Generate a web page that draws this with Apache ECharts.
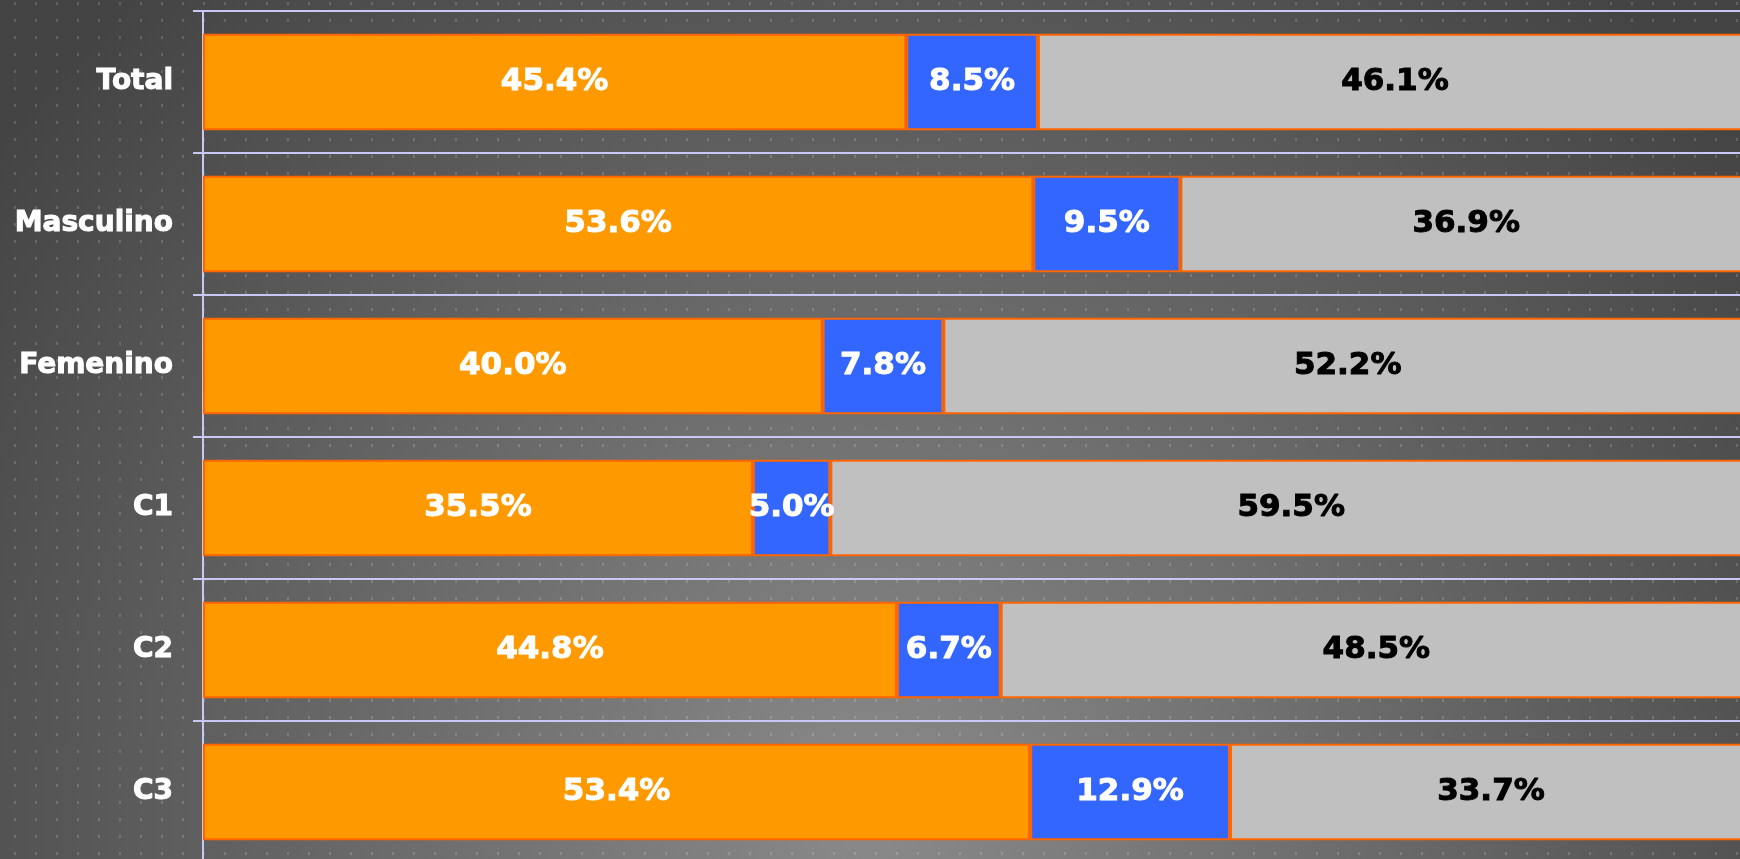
<!DOCTYPE html>
<html>
<head>
<meta charset="utf-8">
<script src="https://cdn.jsdelivr.net/npm/echarts@6/dist/echarts.min.js"></script>
<style>
  html, body { margin: 0; padding: 0; }
  body {
    width: 1740px;
    height: 859px;
    overflow: hidden;
    background-color: #444;
    background-image:
      url("data:image/svg+xml,%3Csvg xmlns='http://www.w3.org/2000/svg' width='21' height='17'%3E%3Crect x='0' y='0' width='2' height='3' fill='rgba(255,255,255,0.16)'/%3E%3C/svg%3E"),
      radial-gradient(ellipse 1100px 1100px at 50% 95%, #8a8a8a 0%, #444 100%);
    background-size: 21px 17px, 100% 100%;
    background-position: 14px 2px, 0 0;
  }
  #chart { width: 1740px; height: 859px; }
</style>
</head>
<body>
<div id="chart"></div>
<script>
// categorías (de arriba abajo)
const categories = ["Total", "Masculino", "Femenino", "C1", "C2", "C3"];

// porcentajes por segmento
const orangeValues = [45.4, 53.6, 40.0, 35.5, 44.8, 53.4];
const blueValues = [8.5, 9.5, 7.8, 5.0, 6.7, 12.9];
const grayValues = [46.1, 36.9, 52.2, 59.5, 48.5, 33.7];

const FONT = "'DejaVu Sans', Verdana, sans-serif";
const LINE = "#c8c8f5";

function segment(name, data, color, textColor) {
  return {
    name,
    type: "bar",
    stack: "total",
    barWidth: "68%",
    data,
    itemStyle: { color, borderColor: "#ff6600", borderWidth: 2 },
    label: {
      show: true,
      position: "inside",
      color: textColor,
      fontFamily: FONT,
      fontSize: 31,
      fontWeight: "bold",
      // trazo fino para engrosar la letra como en el original
      textBorderColor: textColor,
      textBorderWidth: 1,
      formatter: (p) => p.value.toFixed(1) + "%",
    },
    emphasis: { disabled: true },
  };
}

const chart = echarts.init(document.getElementById("chart"), null, { renderer: "canvas" });

chart.setOption({
  backgroundColor: "transparent",
  animation: false,
  grid: { left: 203, right: -12, top: 11, bottom: -4, containLabel: false, outerBoundsMode: "none" },
  xAxis: {
    type: "value",
    min: 0,
    max: 100,
    show: false,
  },
  yAxis: {
    type: "category",
    data: categories,
    inverse: true,
    axisLine: { show: true, lineStyle: { color: LINE, width: 2 } },
    axisTick: { show: true, length: 10, lineStyle: { color: LINE, width: 2 } },
    splitLine: { show: true, lineStyle: { color: LINE, width: 2 } },
    axisLabel: {
      color: "#fff",
      fontFamily: FONT,
      fontSize: 28,
      fontWeight: "bold",
      textBorderColor: "#fff",
      textBorderWidth: 1,
      margin: 30,
    },
  },
  series: [
    segment("Sí", orangeValues, "#ff9900", "#fff"),
    segment("No sabe", blueValues, "#3366ff", "#fff"),
    segment("No", grayValues, "#c0c0c0", "#000"),
  ],
});
</script>
</body>
</html>
